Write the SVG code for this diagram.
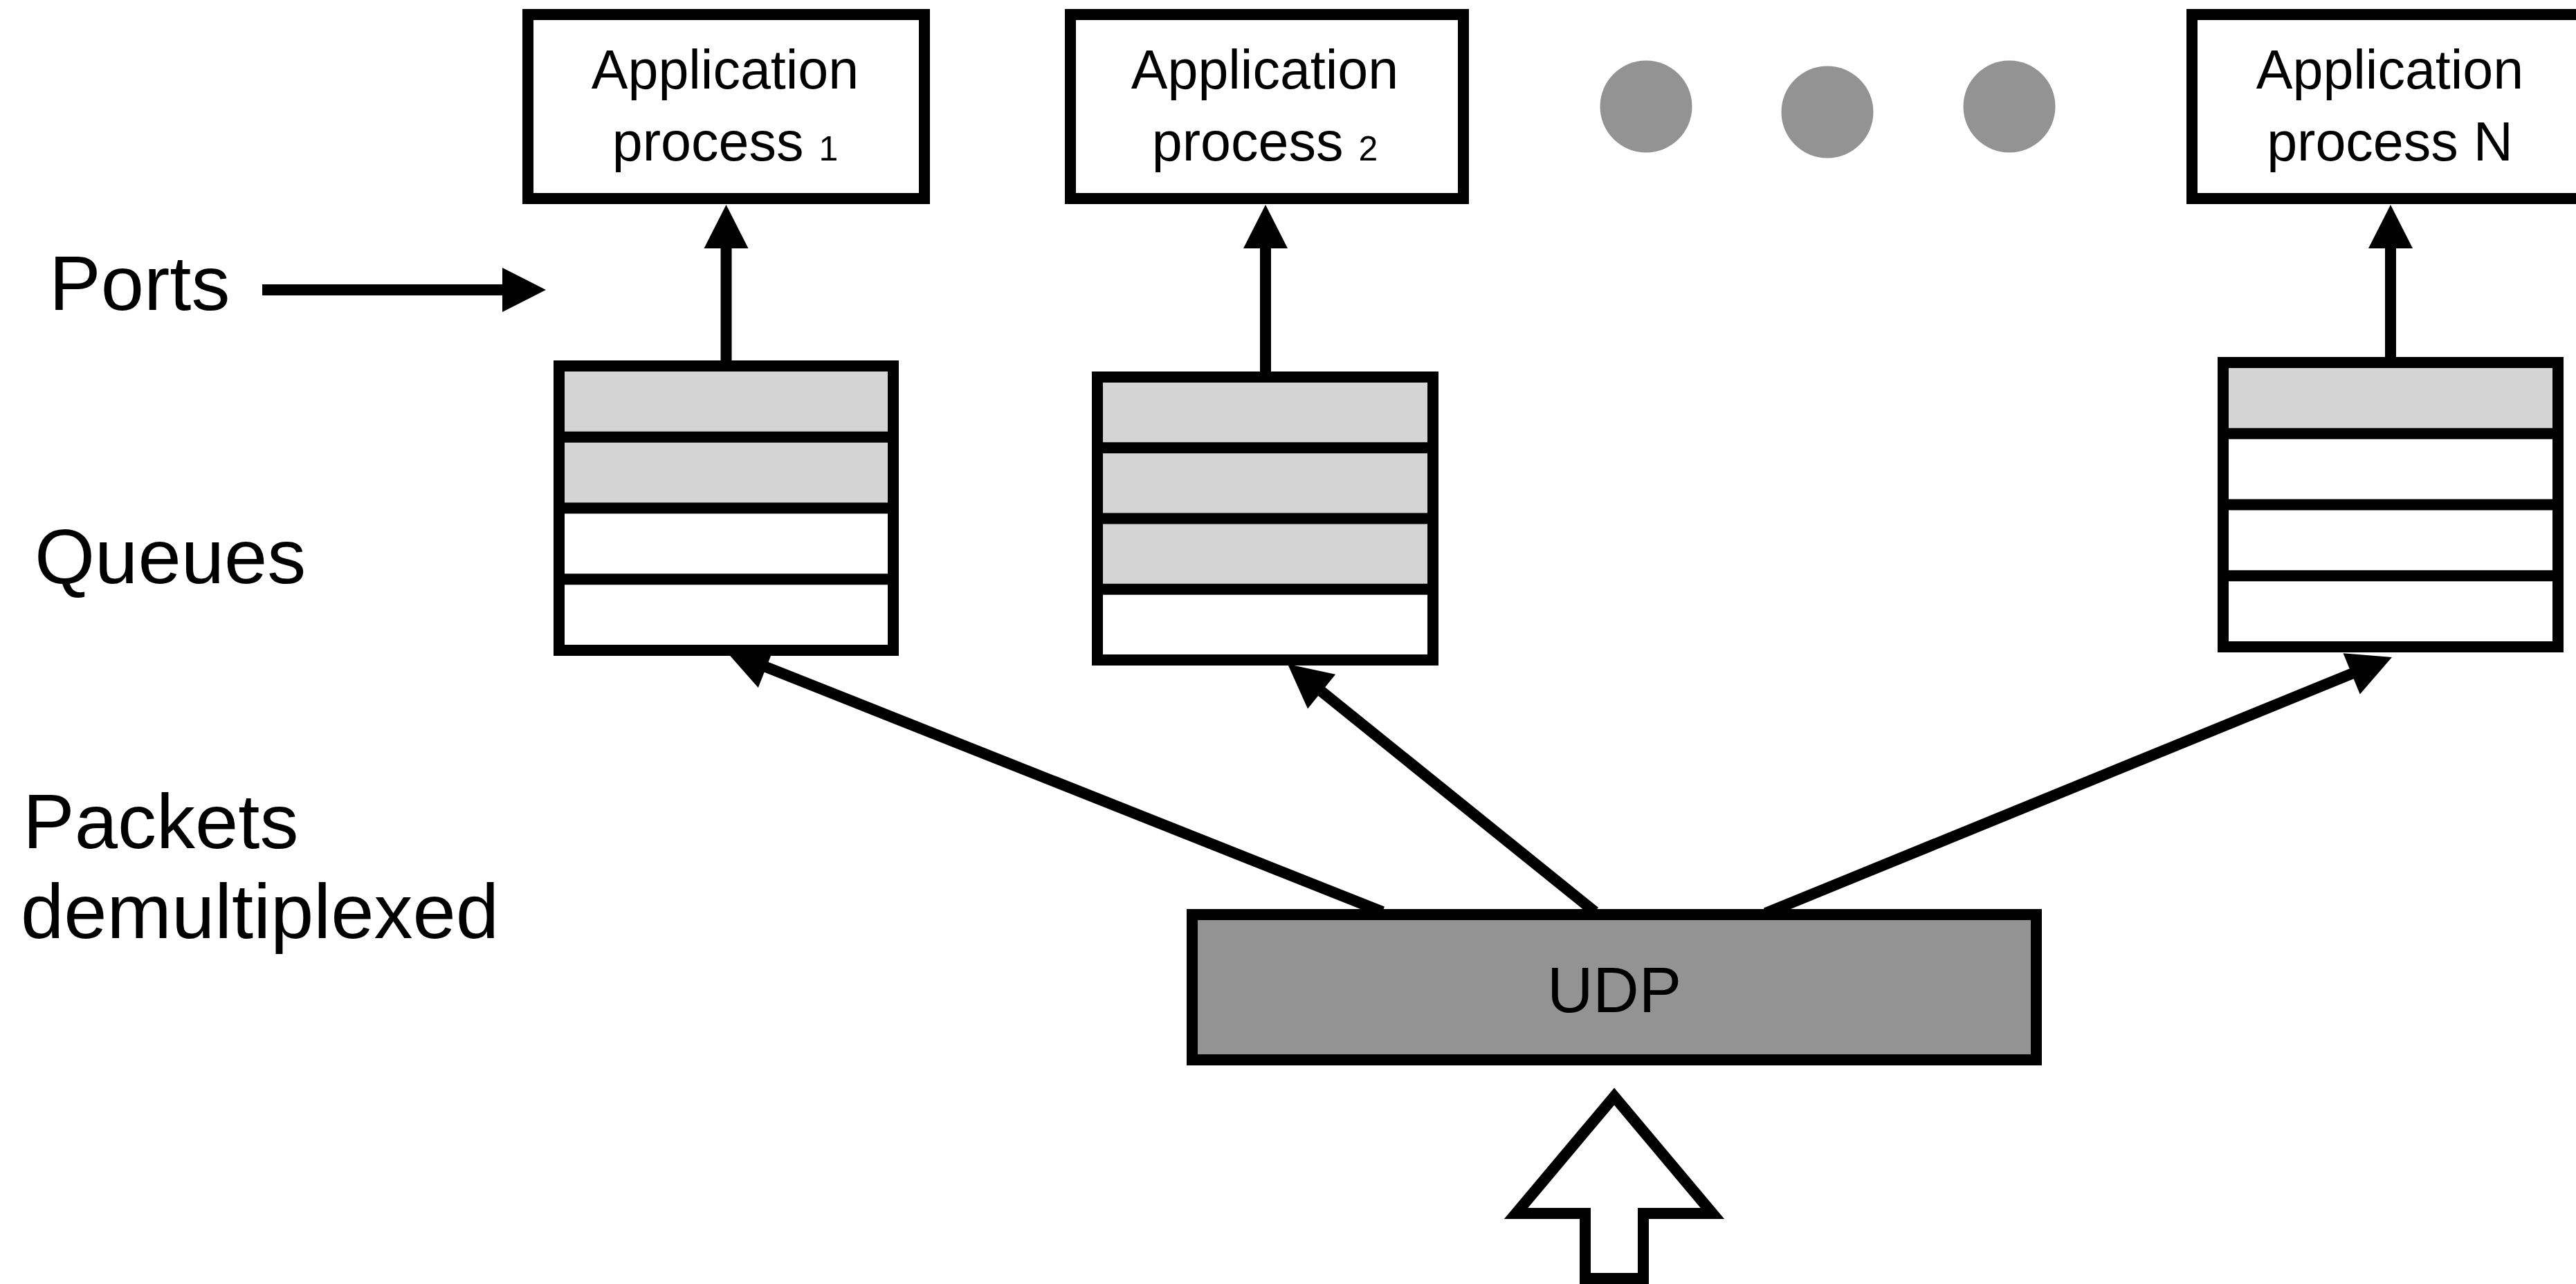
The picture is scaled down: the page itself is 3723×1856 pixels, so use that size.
<svg xmlns="http://www.w3.org/2000/svg" width="3723" height="1856" viewBox="0 0 3723 1856">
  <style>
    text { font-family: "Liberation Sans", Arial, Helvetica, sans-serif; fill: #000; }
    .label { font-size: 112px; }
    .app { font-size: 79px; text-anchor: middle; }
    .app .num { font-size: 50px; }
    .box { fill: #fff; stroke: #000; stroke-width: 16; }
    .slot-full { fill: #d4d4d4; }
    .frame { fill: none; stroke: #000; stroke-width: 16; }
    .divider { stroke: #000; stroke-width: 16; }
    .conn { fill: none; stroke: #000; stroke-width: 16; marker-end: url(#head); }
    .dot { fill: #939393; }
  </style>
  <defs>
    <marker id="head" markerUnits="userSpaceOnUse" markerWidth="63" markerHeight="64" refX="10" refY="32" orient="auto" overflow="visible">
      <path d="M0,0 L63,32 L0,64 Z" fill="#000"/>
    </marker>
  </defs>

  <rect width="3723" height="1856" fill="#fff"/>

  <!-- side labels -->
  <g id="labels">
    <text class="label" x="71" y="448">Ports</text>
    <text class="label" x="50" y="843">Queues</text>
    <text class="label" x="33" y="1226">Packets</text>
    <text class="label" x="30" y="1356">demultiplexed</text>
  </g>

  <!-- connectors -->
  <g id="connectors">
    <line class="conn" x1="379" y1="419" x2="736" y2="419"/>
    <line class="conn" x1="1049.5" y1="521" x2="1049.5" y2="349"/>
    <line class="conn" x1="1829" y1="537" x2="1829" y2="349"/>
    <line class="conn" x1="3455" y1="516" x2="3455" y2="349"/>
    <line class="conn" x1="1998" y1="1318" x2="1098.3" y2="960.6"/>
    <line class="conn" x1="2305" y1="1318" x2="1902.3" y2="993.3"/>
    <line class="conn" x1="2552" y1="1320" x2="3407.9" y2="970.1"/>
    <!-- incoming packets -->
    <polygon points="2333,1585 2475,1754 2375,1754 2375,1848 2291,1848 2291,1754 2191,1754" fill="#fff" stroke="#000" stroke-width="16"/>
  </g>

  <!-- application processes -->
  <g id="app1">
    <rect class="box" x="763" y="21" width="573" height="266"/>
    <text class="app" x="1048" y="128">Application</text>
    <text class="app" x="1048" y="232">process <tspan class="num">1</tspan></text>
  </g>
  <g id="app2">
    <rect class="box" x="1547" y="21" width="568" height="266"/>
    <text class="app" x="1828" y="128">Application</text>
    <text class="app" x="1828" y="232">process <tspan class="num">2</tspan></text>
  </g>
  <g id="ellipsis">
    <circle class="dot" cx="2379" cy="154" r="66.5"/>
    <circle class="dot" cx="2641" cy="162" r="66.5"/>
    <circle class="dot" cx="2904" cy="154" r="66.5"/>
  </g>
  <g id="appN">
    <rect class="box" x="3168" y="21" width="573" height="266"/>
    <text class="app" x="3454" y="128">Application</text>
    <text class="app" x="3454" y="232">process N</text>
  </g>

  <!-- port queues -->
  <g id="queue1">
    <rect class="box" x="808" y="529" width="483" height="411"/>
    <rect class="slot-full" x="808" y="529" width="483" height="205.5"/>
    <rect class="frame" x="808" y="529" width="483" height="411"/>
    <line class="divider" x1="800" y1="631.75" x2="1299" y2="631.75"/>
    <line class="divider" x1="800" y1="734.5" x2="1299" y2="734.5"/>
    <line class="divider" x1="800" y1="837.25" x2="1299" y2="837.25"/>
  </g>
  <g id="queue2">
    <rect class="box" x="1586" y="545" width="485" height="409"/>
    <rect class="slot-full" x="1586" y="545" width="485" height="306.75"/>
    <rect class="frame" x="1586" y="545" width="485" height="409"/>
    <line class="divider" x1="1578" y1="647.25" x2="2079" y2="647.25"/>
    <line class="divider" x1="1578" y1="749.5" x2="2079" y2="749.5"/>
    <line class="divider" x1="1578" y1="851.75" x2="2079" y2="851.75"/>
  </g>
  <g id="queueN">
    <rect class="box" x="3213" y="524" width="484" height="411"/>
    <rect class="slot-full" x="3213" y="524" width="484" height="102.75"/>
    <rect class="frame" x="3213" y="524" width="484" height="411"/>
    <line class="divider" x1="3205" y1="626.75" x2="3705" y2="626.75"/>
    <line class="divider" x1="3205" y1="729.5" x2="3705" y2="729.5"/>
    <line class="divider" x1="3205" y1="832.25" x2="3705" y2="832.25"/>
  </g>

  <!-- transport layer -->
  <g id="udp">
    <rect x="1723" y="1322" width="1220" height="210" fill="#939393" stroke="#000" stroke-width="16"/>
    <text x="2333" y="1463" font-size="92" text-anchor="middle">UDP</text>
  </g>
</svg>
